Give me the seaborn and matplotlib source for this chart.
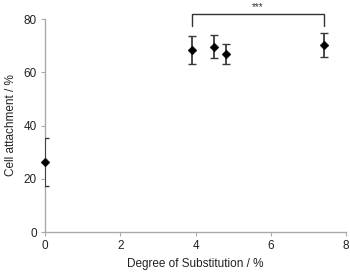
import numpy as np
import pandas as pd
import matplotlib
matplotlib.use("Agg")
import matplotlib.pyplot as plt
import seaborn as sns

# Data
dos = [0.0, 3.9, 4.5, 4.8, 7.42]
attachment = [26.3, 68.4, 69.6, 66.9, 70.3]
err_low = [9.0, 5.2, 4.3, 3.7, 4.4]
err_high = [9.2, 5.3, 4.4, 3.7, 4.4]

df = pd.DataFrame({"dos": dos, "att": attachment})

sns.set_style("white")
plt.rcParams['font.family'] = ['Liberation Sans', 'DejaVu Sans']

fig = plt.figure(figsize=(3.5, 2.72), dpi=100)
ax = fig.add_axes([0.129, 0.147, 0.860, 0.783])

ax.errorbar(df["dos"], df["att"], yerr=[err_low, err_high], fmt="none",
            ecolor="#3a3a3a", elinewidth=1.3, capsize=2.8, capthick=1.0,
            zorder=3)
sns.scatterplot(data=df, x="dos", y="att", marker="D", s=20, color="black",
                edgecolor="black", ax=ax, zorder=4, clip_on=False)

ax.set_xlim(0, 8)
ax.set_ylim(0, 80)
ax.set_xticks([0, 2, 4, 6, 8])
ax.set_yticks([0, 20, 40, 60, 80])
ax.set_xlabel("Degree of Substitution / %", fontsize=8.5, color="#222222",
              labelpad=4)
ax.set_ylabel("Cell attachment / %", fontsize=8.5, color="#222222",
              labelpad=5)
ax.tick_params(axis="both", labelsize=8.5, labelcolor="#222222", length=3,
               width=0.8, direction="out", bottom=True, left=True,
               color="#aaaaaa", pad=3)

for side in ["top", "right"]:
    ax.spines[side].set_visible(False)
for side in ["left", "bottom"]:
    ax.spines[side].set_color("#aaaaaa")
    ax.spines[side].set_linewidth(1.0)

# significance bracket
bx0, bx1, by, bdrop = 3.9, 7.42, 82.0, 77.4
ax.plot([bx0, bx0, bx1, bx1], [bdrop, by, by, bdrop], color="#333333",
        lw=1.0, clip_on=False)
ax.text((bx0 + bx1) / 2, by + 0.8, "***", ha="center", va="bottom",
        fontsize=7, color="#333333", clip_on=False)

fig.savefig("out.png", dpi=100)
